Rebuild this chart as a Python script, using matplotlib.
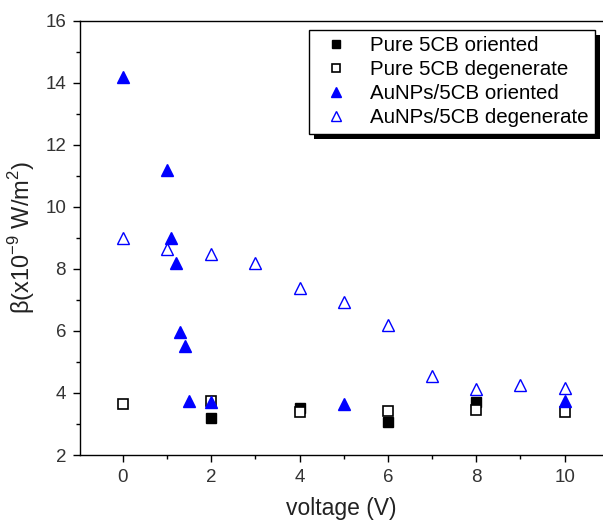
import matplotlib
matplotlib.use("Agg")
import matplotlib.pyplot as plt
from matplotlib.patches import Rectangle
from matplotlib.ticker import MultipleLocator

plt.rcParams['font.family'] = ['Liberation Sans', 'DejaVu Sans']

# data
pure_or_x = [2, 4, 6, 8]
pure_or_y = [3.2, 3.52, 3.06, 3.7]
pure_deg_x = [0, 2, 4, 6, 8, 10]
pure_deg_y = [3.65, 3.74, 3.39, 3.42, 3.45, 3.39]
au_or_x = [0, 1, 1.1, 1.2, 1.3, 1.4, 1.5, 2, 5, 10]
au_or_y = [14.2, 11.2, 9.0, 8.2, 5.95, 5.5, 3.75, 3.72, 3.65, 3.75]
au_deg_x = [0, 1, 2, 3, 4, 5, 6, 7, 8, 9, 10]
au_deg_y = [9.0, 8.65, 8.48, 8.2, 7.39, 6.94, 6.19, 4.56, 4.13, 4.26, 4.16]

fig = plt.figure(figsize=(6.03, 5.24), dpi=100)
ax = fig.add_axes([80/603, 1-455/524, 1-80/603, (455-20.7)/524])

ax.plot(pure_or_x, pure_or_y, 's', color='black', ms=7, label='Pure 5CB oriented')
ax.plot(pure_deg_x, pure_deg_y, 's', mfc='white', mec='black', mew=1.2, ms=7,
        label='Pure 5CB degenerate')
ax.plot(au_or_x, au_or_y, '^', color='blue', ms=9, label='AuNPs/5CB oriented')
ax.plot(au_deg_x, au_deg_y, '^', mfc='white', mec='blue', mew=1.0, ms=9,
        label='AuNPs/5CB degenerate')

ax.set_xlim(-0.97, 10.87)
ax.set_ylim(2, 16)
ax.xaxis.set_major_locator(MultipleLocator(2))
ax.xaxis.set_minor_locator(MultipleLocator(1))
ax.yaxis.set_major_locator(MultipleLocator(2))
ax.yaxis.set_minor_locator(MultipleLocator(1))
ax.tick_params(which='major', direction='out', length=5, width=1, labelsize=13.5,
               labelcolor='#333333', pad=5)
ax.tick_params(which='minor', direction='out', length=3, width=1)
ax.spines['right'].set_visible(False)
for s in ['left', 'bottom', 'top']:
    ax.spines[s].set_linewidth(1)

ax.set_xlabel('voltage (V)', fontsize=16.5, color='#222222', labelpad=8)
ax.set_ylabel(r'β(x10$^{\mathregular{-9}}$ W/m$^{\mathregular{2}}$)', fontsize=17,
              color='#222222', labelpad=6)

leg = ax.legend(loc='upper right', bbox_to_anchor=(0.985, 0.979), borderaxespad=0,
                fontsize=14.8, frameon=True, fancybox=False, edgecolor='black',
                framealpha=1, borderpad=0.3, labelspacing=0.25,
                handletextpad=0.7, handlelength=2.0, markerscale=0.8)
leg.get_frame().set_linewidth(1)

# solid black drop shadow behind the legend box
fig.canvas.draw()
bb = leg.get_frame().get_window_extent().transformed(fig.transFigure.inverted())
dx, dy = 5/603, 5/524
shadow = Rectangle((bb.x0 + dx, bb.y0 - dy), bb.width, bb.height,
                   transform=fig.transFigure, facecolor='black', edgecolor='none',
                   clip_on=False, zorder=leg.get_zorder() - 0.1)
ax.add_artist(shadow)

fig.savefig('out.png', dpi=100)
